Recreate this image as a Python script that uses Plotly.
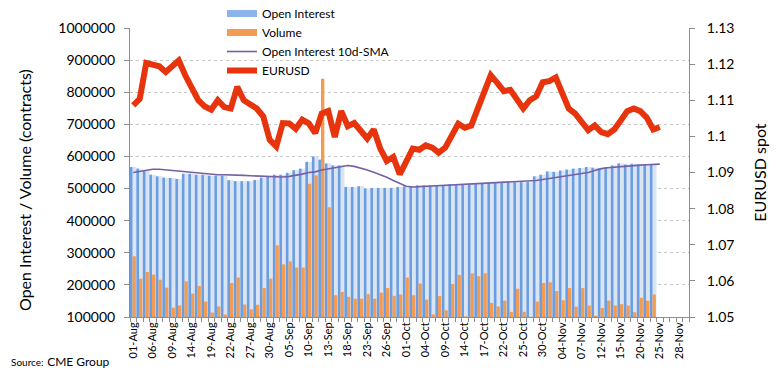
import plotly.graph_objects as go

# Business days (category axis labels)
dates = (
    ["01-Aug","02-Aug","05-Aug","06-Aug","07-Aug","08-Aug","09-Aug","12-Aug","13-Aug","14-Aug",
     "15-Aug","16-Aug","19-Aug","20-Aug","21-Aug","22-Aug","23-Aug","26-Aug","27-Aug","28-Aug",
     "29-Aug","30-Aug"]
    + ["03-Sep","04-Sep","05-Sep","06-Sep","09-Sep","10-Sep","11-Sep","12-Sep","13-Sep","16-Sep",
       "17-Sep","18-Sep","19-Sep","20-Sep","23-Sep","24-Sep","25-Sep","26-Sep","27-Sep","30-Sep"]
    + ["01-Oct","02-Oct","03-Oct","04-Oct","07-Oct","08-Oct","09-Oct","10-Oct","11-Oct","14-Oct",
       "15-Oct","16-Oct","17-Oct","18-Oct","21-Oct","22-Oct","23-Oct","24-Oct","25-Oct","28-Oct",
       "29-Oct","30-Oct","31-Oct"]
    + ["01-Nov","04-Nov","05-Nov","06-Nov","07-Nov","08-Nov","11-Nov","12-Nov","13-Nov","14-Nov",
       "15-Nov","18-Nov","19-Nov","20-Nov","21-Nov","22-Nov","25-Nov","26-Nov","27-Nov","28-Nov",
       "29-Nov"]
)

open_interest = [
    567000, 562000, 555000, 543000, 538000, 534000, 533000, 530000, 546000, 546000,
    543000, 543000, 540000, 540000, 540000, 526000, 523000, 523000, 523000, 527000,
    534000, 536000, 543000, 543000, 549000, 557000, 562000, 583000, 600000, 590000,
    578000, 572000, 572000, 505000, 505000, 507000, 500000, 502000, 502000, 502000,
    502000, 505000, 507000, 507000, 510000, 510000, 510000, 510000, 510000, 513000,
    513000, 513000, 515000, 515000, 515000, 517000, 517000, 517000, 520000, 520000,
    520000, 520000, 538000, 543000, 553000, 552000, 556000, 559000, 562000, 564000,
    567000, 565000, 563000, 567000, 572000, 578000, 575000, 577000, 575000, 575000,
    576000,
]

volume = [
    289000, 219500, 240000, 232000, 216000, 191500, 129000, 136000, 211000, 173000,
    197000, 148000, 114000, 133000, 108000, 206000, 223000, 139000, 124000, 138000,
    190000, 219500, 323000, 264000, 273000, 254000, 254000, 515000, 541000, 842000,
    442000, 168000, 178000, 163000, 157000, 157000, 171000, 157000, 176000, 190000,
    166000, 170000, 223000, 168000, 204000, 154000, 108000, 165000, 121000, 203000,
    231000, 102000, 236000, 227000, 236000, 144000, 133000, 151000, 116000, 188000,
    116000, 101000, 148000, 206000, 208000, 181000, 152000, 190000, 132000, 190000,
    136000, 104000, 128000, 151000, 136000, 140000, 136000, 115000, 160000, 151000,
    170000,
]

oi_sma10 = [
    550000, 553000, 557000, 560000, 560000, 558000, 555000, 554000, 551000, 549000,
    547000, 546000, 545000, 543000, 543000, 543000, 542000, 541000, 540000, 539000,
    537000, 536000, 536000, 536000, 538000, 541000, 545000, 550000, 552000, 558000,
    562000, 566000, 570000, 572000, 569000, 564000, 558000, 551000, 544000, 535000,
    525000, 515000, 507000, 505000, 506000, 507000, 507000, 508000, 510000, 511000,
    512000, 513000, 514000, 515000, 516000, 517000, 518000, 519000, 520000, 521000,
    522000, 522000, 525000, 528000, 531000, 534000, 537000, 540000, 543000, 546000,
    550000, 556000, 562000, 565000, 567000, 568000, 570000, 572000, 573000, 574000,
    575000, 576000,
]

eurusd = [
    1.1086, 1.1104, 1.1203, 1.1199, 1.1194, 1.1178, 1.1197, 1.1210, 1.1169, 1.1132,
    1.1100, 1.1083, 1.1074, 1.1100, 1.1081, 1.1077, 1.1137, 1.1100, 1.1090, 1.1077,
    1.1055, 1.0990, 1.0972, 1.1037, 1.1036, 1.1021, 1.1046, 1.1036, 1.1009, 1.1063,
    1.1070, 1.0998, 1.1070, 1.1028, 1.1037, 1.1017, 1.0994, 1.1019, 1.0966, 1.0932,
    1.0943, 1.0895, 1.0934, 1.0966, 1.0963, 1.0975, 1.0969, 1.0955, 1.0969, 1.1003,
    1.1035, 1.1024, 1.1030, 1.1077, 1.1127, 1.1169, 1.1148, 1.1125, 1.1129, 1.1104,
    1.1077, 1.1100, 1.1111, 1.1150, 1.1153, 1.1163, 1.1123, 1.1077, 1.1063, 1.1040,
    1.1017, 1.1030, 1.1012, 1.1006, 1.1019, 1.1044, 1.1070, 1.1077, 1.1070, 1.1052,
    1.1019, 1.1026,
]

left_ticks = [100000, 200000, 300000, 400000, 500000, 600000, 700000, 800000, 900000, 1000000]
right_ticks = [1.05, 1.06, 1.07, 1.08, 1.09, 1.10, 1.11, 1.12, 1.13]

FONT = "Lato, 'Open Sans', sans-serif"
idx_all = list(range(len(dates)))
x_bar = idx_all[:len(open_interest)]
x_line = idx_all[:len(eurusd)]
label_idx = idx_all[::3]

PLOT_W, PLOT_H = 559, 289

fig = go.Figure()

# light backing of the open-interest bars
fig.add_trace(go.Bar(x=x_bar, y=open_interest, width=1.0, offset=-0.5,
                     marker=dict(color="#dae5f4", line=dict(width=0)),
                     showlegend=False, hoverinfo="skip"))
# darker open-interest stripe
fig.add_trace(go.Bar(x=x_bar, y=open_interest, width=0.40, offset=-0.52, name="Open Interest",
                     marker=dict(color="#6a9de1", line=dict(width=0)), showlegend=False))
# volume
fig.add_trace(go.Bar(x=x_bar, y=volume, width=0.52, offset=-0.12, name="Volume",
                     marker=dict(color="#f29b52", line=dict(width=0)), showlegend=False))

# legend swatches
fig.add_trace(go.Scatter(x=[None], y=[None], mode="lines", name="Open Interest",
                         line=dict(color="#8ab4ea", width=7)))
fig.add_trace(go.Scatter(x=[None], y=[None], mode="lines", name="Volume",
                         line=dict(color="#f29b52", width=7)))

fig.add_trace(go.Scatter(x=x_line, y=oi_sma10, mode="lines", name="Open Interest 10d-SMA",
                         line=dict(color="#7560a3", width=1.6)))
fig.add_trace(go.Scatter(x=x_line, y=eurusd, mode="lines", name="EURUSD", yaxis="y2",
                         line=dict(color="#e8340c", width=6, shape="linear")))

fig.update_layout(
    width=776, height=383,
    margin=dict(l=130, r=87, t=28, b=66, autoexpand=False),
    paper_bgcolor="white", plot_bgcolor="white",
    barmode="overlay",
    font=dict(family=FONT, size=14, color="#000000"),
    showlegend=True,
    legend=dict(x=(222 - 130) / PLOT_W, xanchor="left", y=1 + 29 / PLOT_H, yanchor="top",
                bgcolor="rgba(255,255,255,0)", font=dict(size=12),
                tracegroupgap=0, itemwidth=30),
    xaxis=dict(
        range=[-0.5, len(dates) - 0.5],
        tickmode="array", tickvals=label_idx, ticktext=[dates[i] for i in label_idx],
        tickangle=-90, tickfont=dict(size=11),
        ticks="", showgrid=False, zeroline=False,
        showline=True, linecolor="#8c8c8c", linewidth=1,
        minor=dict(ticks="outside", tick0=-0.5, dtick=1, ticklen=4,
                   tickcolor="#8c8c8c", showgrid=False),
    ),
    yaxis=dict(
        range=[100000, 1000000], tickmode="array", tickvals=left_ticks,
        tickformat="d", ticks="outside", ticklen=5, tickcolor="#8c8c8c",
        ticklabelstandoff=6,
        showline=True, linecolor="#8c8c8c", linewidth=1,
        showgrid=True, gridcolor="#c8c8c8", griddash="dot", gridwidth=1,
        zeroline=False,
    ),
    yaxis2=dict(
        range=[1.05, 1.13], tickmode="array", tickvals=right_ticks,
        overlaying="y", side="right", ticks="outside", ticklen=5, tickcolor="#8c8c8c",
        ticklabelstandoff=9,
        showline=True, linecolor="#8c8c8c", linewidth=1, showgrid=False, zeroline=False,
        title=dict(text="EURUSD spot", font=dict(size=16), standoff=21),
    ),
    annotations=[
        dict(text="Open Interest / Volume (contracts)", textangle=-90,
             xref="paper", yref="paper", x=(25 - 130) / PLOT_W, y=(317 - 190) / PLOT_H,
             xanchor="center", yanchor="middle", showarrow=False,
             font=dict(family=FONT, size=16, color="#000000")),
        dict(text="<span style='font-size:10px'>Source:</span> <span style='font-size:12px'>CME Group</span>",
             xref="paper", yref="paper", x=-121 / PLOT_W, y=-43 / PLOT_H, xanchor="left", yanchor="middle",
             showarrow=False, font=dict(family=FONT, color="#000000")),
    ],
)

fig.write_html("out.html", config={"displayModeBar": False},
               post_script="document.body.style.margin='0px';")
